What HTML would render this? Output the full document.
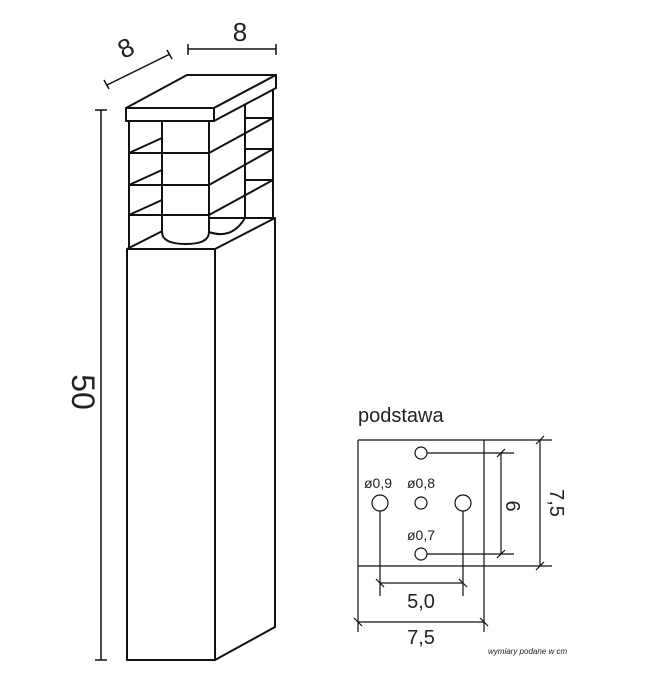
<!DOCTYPE html>
<html><head><style>
html,body{margin:0;padding:0;background:#fff;}
svg{display:block;}
text{font-family:"Liberation Sans",sans-serif;fill:#222;}
</style></head><body>
<svg width="650" height="677" viewBox="0 0 650 677" xmlns="http://www.w3.org/2000/svg">
<g stroke="#111" stroke-width="2" fill="none" stroke-linejoin="round">
 <!-- body -->
 <rect x="127" y="249" width="88" height="411" fill="#fff"/>
 <polygon points="215,249 275,218 275,627 215,660" fill="#fff"/>
 <line x1="127" y1="249" x2="188" y2="218"/>
 <line x1="188" y1="218" x2="275" y2="218"/>
 <!-- cylinder -->
 <path d="M162 121 V232 Q162 244 186 244 Q209 244 209 232 V121" fill="#fff"/>
 <path d="M209 232 Q232 240 245 218"/>
 <!-- posts -->
 <line x1="129" y1="121" x2="129" y2="249"/>
 <line x1="245" y1="88" x2="245" y2="218"/>
 <line x1="273" y1="88" x2="273" y2="218"/>
 <!-- front bars -->
 <line x1="129" y1="153" x2="209" y2="153"/>
 <line x1="129" y1="185" x2="209" y2="185"/>
 <line x1="129" y1="215" x2="209" y2="215"/>
 <!-- side diagonals -->
 <line x1="209" y1="153" x2="273" y2="118"/>
 <line x1="209" y1="185" x2="273" y2="149"/>
 <line x1="209" y1="215" x2="273" y2="180"/>
 <line x1="245" y1="118" x2="273" y2="118"/>
 <line x1="245" y1="149" x2="273" y2="149"/>
 <line x1="245" y1="180" x2="273" y2="180"/>
 <line x1="129" y1="153" x2="162" y2="138"/>
 <line x1="129" y1="185" x2="162" y2="170"/>
 <line x1="129" y1="215" x2="162" y2="200"/>
 <!-- cap -->
 <polygon points="126,108 187,75 276,75 214,108" fill="#fff"/>
 <rect x="126" y="108" width="88" height="13" fill="#fff"/>
 <polygon points="214,108 276,75 276,88 214,121" fill="#fff"/>
</g>
<g stroke="#111" stroke-width="1.5" fill="none">
 <!-- 50 dim -->
 <line x1="101" y1="110" x2="101" y2="660"/>
 <line x1="95" y1="110" x2="107" y2="110"/>
 <line x1="95" y1="660" x2="107" y2="660"/>
 <!-- top 8 -->
 <line x1="188" y1="49" x2="276" y2="49"/>
 <line x1="188" y1="44" x2="188" y2="55"/>
 <line x1="276" y1="44" x2="276" y2="55"/>
 <!-- diag 8 -->
 <line x1="107" y1="85" x2="170" y2="54"/>
 <line x1="104" y1="80" x2="109" y2="89"/>
 <line x1="167" y1="50" x2="172" y2="59"/>
</g>
<text x="240" y="41" font-size="26" text-anchor="middle">8</text>
<text transform="translate(130,56) rotate(-27)" font-size="26" text-anchor="middle">8</text>
<text transform="translate(72,392) rotate(90)" font-size="32" text-anchor="middle">50</text>

<!-- podstawa -->
<text x="358" y="422" font-size="20">podstawa</text>
<g stroke="#111" stroke-width="1.2" fill="none">
 <line x1="358" y1="440" x2="552" y2="440"/>
 <line x1="358" y1="566" x2="552" y2="566"/>
 <line x1="358" y1="440" x2="358" y2="632"/>
 <line x1="484" y1="440" x2="484" y2="632"/>
 <circle cx="421" cy="453" r="6" fill="#fff"/>
 <circle cx="421" cy="503" r="6" fill="#fff"/>
 <circle cx="380" cy="503" r="8" fill="#fff"/>
 <circle cx="463" cy="503" r="8" fill="#fff"/>
 <circle cx="421" cy="554" r="6" fill="#fff"/>
 <line x1="427" y1="453" x2="514" y2="453"/>
 <line x1="427" y1="554" x2="514" y2="554"/>
 <line x1="501" y1="453" x2="501" y2="554"/>
 <line x1="497" y1="457" x2="505" y2="449"/>
 <line x1="497" y1="558" x2="505" y2="550"/>
 <line x1="540" y1="440" x2="540" y2="566"/>
 <line x1="536" y1="444" x2="544" y2="436"/>
 <line x1="536" y1="570" x2="544" y2="562"/>
 <line x1="380" y1="511" x2="380" y2="596"/>
 <line x1="463" y1="511" x2="463" y2="596"/>
 <line x1="380" y1="583" x2="463" y2="583"/>
 <line x1="376" y1="579" x2="384" y2="587"/>
 <line x1="459" y1="579" x2="467" y2="587"/>
 <line x1="358" y1="622" x2="484" y2="622"/>
 <line x1="354" y1="618" x2="362" y2="626"/>
 <line x1="480" y1="618" x2="488" y2="626"/>
</g>
<text x="364" y="488" font-size="14">ø0,9</text>
<text x="407" y="488" font-size="14">ø0,8</text>
<text x="407" y="540" font-size="14">ø0,7</text>
<text transform="translate(506,506) rotate(90)" font-size="20" text-anchor="middle">6</text>
<text transform="translate(550,503) rotate(90)" font-size="20" text-anchor="middle">7,5</text>
<text x="421" y="608" font-size="20" text-anchor="middle">5,0</text>
<text x="421" y="644" font-size="20" text-anchor="middle">7,5</text>
<text x="488" y="654" font-size="8" font-style="italic">wymiary podane w cm</text>
</svg>
</body></html>
